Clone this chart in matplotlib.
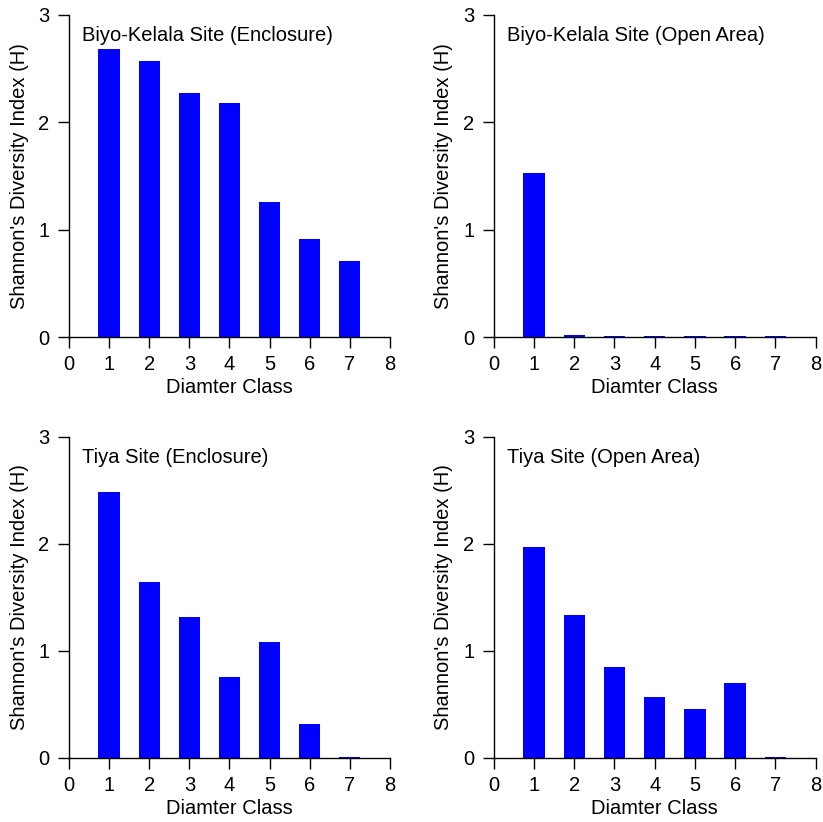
import matplotlib.pyplot as plt
import numpy as np

plt.rcParams['font.family'] = ['Liberation Sans', 'DejaVu Sans']

# --- dados ---
classes = [1, 2, 3, 4, 5, 6, 7]
titulos = ["Biyo-Kelala Site (Enclosure)", "Biyo-Kelala Site (Open Area)",
           "Tiya Site (Enclosure)", "Tiya Site (Open Area)"]
biyo_enclosure = [2.68, 2.57, 2.27, 2.18, 1.26, 0.91, 0.71]
biyo_open = [1.53, 0.02, 0.01, 0.01, 0.01, 0.01, 0.01]
tiya_enclosure = [2.49, 1.64, 1.32, 0.76, 1.08, 0.32, 0.01]
tiya_open = [1.97, 1.34, 0.85, 0.57, 0.46, 0.70, 0.01]

series = [biyo_enclosure, biyo_open, tiya_enclosure, tiya_open]

fig = plt.figure(figsize=(8.23, 8.22), dpi=100)

# posicoes dos eixos (left, bottom, width, height)
posicoes = [
    [0.0838, 0.590, 0.390, 0.392],
    [0.600, 0.590, 0.391, 0.392],
    [0.0838, 0.0779, 0.390, 0.3905],
    [0.600, 0.0779, 0.391, 0.3905],
]

fs = 14.5

for pos, titulo, valores in zip(posicoes, titulos, series):
    ax = fig.add_axes(pos)
    ax.bar(classes, valores, width=0.53, color='#0000FF', edgecolor='none', zorder=1)
    ax.set_xlim(0, 8)
    ax.set_ylim(0, 3)
    ax.set_xticks(range(0, 9))
    ax.set_yticks([0, 1, 2, 3])
    ax.spines['top'].set_visible(False)
    ax.spines['right'].set_visible(False)
    ax.spines['left'].set_linewidth(1.0)
    ax.spines['bottom'].set_linewidth(1.0)
    ax.spines['bottom'].set_zorder(3)
    ax.tick_params(direction='out', length=8, width=1.0, labelsize=fs)
    ax.tick_params(axis='x', pad=5)
    ax.tick_params(axis='y', pad=6)
    ax.set_xlabel('Diamter Class', fontsize=fs, labelpad=3)
    ax.set_ylabel("Shannon's Diversity Index (H)", fontsize=fs, labelpad=7)
    ax.text(0.04, 0.965, titulo, transform=ax.transAxes, fontsize=fs,
            ha='left', va='top')

plt.savefig('out.png', dpi=100)
plt.close()
